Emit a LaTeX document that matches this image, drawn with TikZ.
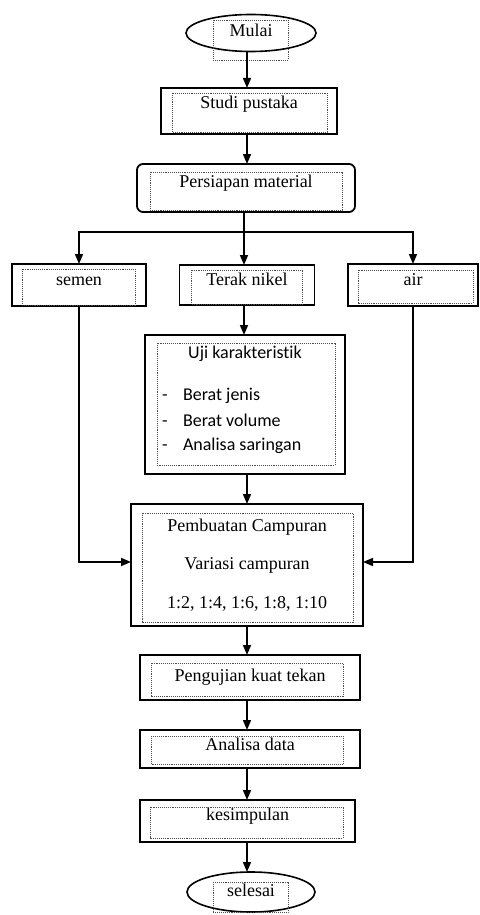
\documentclass[tikz,border=0pt]{standalone}
\usepackage{fontspec}
\setmainfont{Liberation Serif}
\newfontfamily\calibri[Ligatures={NoCommon}]{Carlito}
\usetikzlibrary{arrows.meta,shapes.geometric,calc}
\begin{document}
\begin{tikzpicture}[x=1pt,y=-1pt,
  every node/.style={inner sep=0pt, outer sep=0pt},
  txt/.style={font=\fontsize{18}{22}\selectfont, text height=12pt, text depth=#1},
  txt/.default=4pt,
  cal/.style={font=\calibri\fontsize{18}{22}\selectfont},
  pbox/.style={draw, line width=1.8pt, rectangle},
  obox/.style={draw, line width=1.6pt, ellipse},
  arr/.style={line width=1.6pt, -{Triangle[length=10pt,width=8pt]}},
  ln/.style={line width=1.6pt},
  dots/.style={densely dotted, line width=0.9pt, black!70}]
\useasboundingbox (0,0) rectangle (479,915);

% nodes
\node[obox, txt, minimum width=130pt, minimum height=37pt] (mulai) at (251,33) {Mulai};
\node[pbox, txt=16pt, minimum width=176pt, minimum height=46pt] (studi) at (249,111) {Studi pustaka};
\node[pbox, rounded corners=6pt, txt=14pt, minimum width=218pt, minimum height=48pt] (persiapan) at (246,188) {Persiapan material};
\node[pbox, txt=11pt, minimum width=134pt, minimum height=42pt] (semen) at (79,285) {semen};
\node[pbox, txt=11pt, minimum width=135pt, minimum height=40pt] (terak) at (247,285) {Terak nikel};
\node[pbox, txt=11pt, minimum width=130pt, minimum height=42pt] (air) at (413,285) {air};

\node[pbox, minimum width=200pt, minimum height=139pt] (uji) at (245,404.5) {};
\node[cal, anchor=base] (ujit) at (245,358) {Uji karakteristik};
\node[cal, anchor=base west] (d1) at (162,400) {-};
\node[cal, anchor=base west] (i1) at (183,400) {Berat jenis};
\node[cal, anchor=base west] (d2) at (162,426) {-};
\node[cal, anchor=base west] (i2) at (183,426) {Berat volume};
\node[cal, anchor=base west] (d3) at (162,450) {-};
\node[cal, anchor=base west] (i3) at (183,450) {Analisa saringan};

\node[pbox, minimum width=232pt, minimum height=122pt, align=center,
      font=\fontsize{18}{22}\selectfont] (buat) at (247,565)
      {Pembuatan Campuran\\[16.5pt]Variasi campuran\\[16.5pt]1:2, 1:4, 1:6, 1:8, 1:10};

\node[pbox, txt, minimum width=220pt, minimum height=45pt] (kuat) at (250,677.5) {Pengujian kuat tekan};
\node[pbox, txt=9pt, minimum width=220pt, minimum height=38pt] (analisa) at (250,749) {Analisa data};
\node[pbox, txt=13pt, minimum width=215pt, minimum height=42pt] (kesimpulan) at (247.5,821) {kesimpulan};
\node[obox, txt, minimum width=128pt, minimum height=40pt] (selesai) at (251,892) {selesai};

% dotted inner frames
\foreach \n/\a/\b/\c/\d in {studi/11/5/10/2, persiapan/13/8/13/2, semen/10/5/11/1,
    terak/12/5/12/1, air/10/6/5/3, uji/12/8/10/9, buat/11/9/10/4,
    kuat/11/8/17/4, analisa/11/6/17/4, kesimpulan/10/7/12/4}
  \draw[dots] ($(\n.north west)+(\a,\b)$) rectangle ($(\n.south east)+(-\c,-\d)$);
\draw[dots] ($(mulai)+(-38,-13)$) rectangle ($(mulai)+(37,27)$);
\draw[dots] ($(selesai)+(-38,-10)$) rectangle ($(selesai)+(37,20)$);

% connectors
\coordinate (c) at (247,0);
\coordinate (j) at (244,232);
\draw[arr] (c |- mulai.south) -- (c |- studi.north);
\draw[arr] (c |- studi.south) -- (c |- persiapan.north);
\draw[ln] (j |- persiapan.south) -- (j);
\draw[arr] (j) -| (semen.north);
\draw[arr] (j) -| (air.north);
\draw[arr] (j) -- (j |- terak.north);
\draw[arr] (j |- terak.south) -- (j |- uji.north);
\draw[arr] (c |- uji.south) -- (c |- buat.north);
\draw[arr] (semen.south) |- ($(buat.west)+(0,-3)$);
\draw[arr] (air.south) |- ($(buat.east)+(0,-3)$);
\draw[arr] (c |- buat.south) -- (c |- kuat.north);
\draw[arr] (c |- kuat.south) -- (c |- analisa.north);
\draw[arr] (c |- analisa.south) -- (c |- kesimpulan.north);
\draw[arr] (c |- kesimpulan.south) -- (c |- selesai.north);
\end{tikzpicture}
\end{document}
